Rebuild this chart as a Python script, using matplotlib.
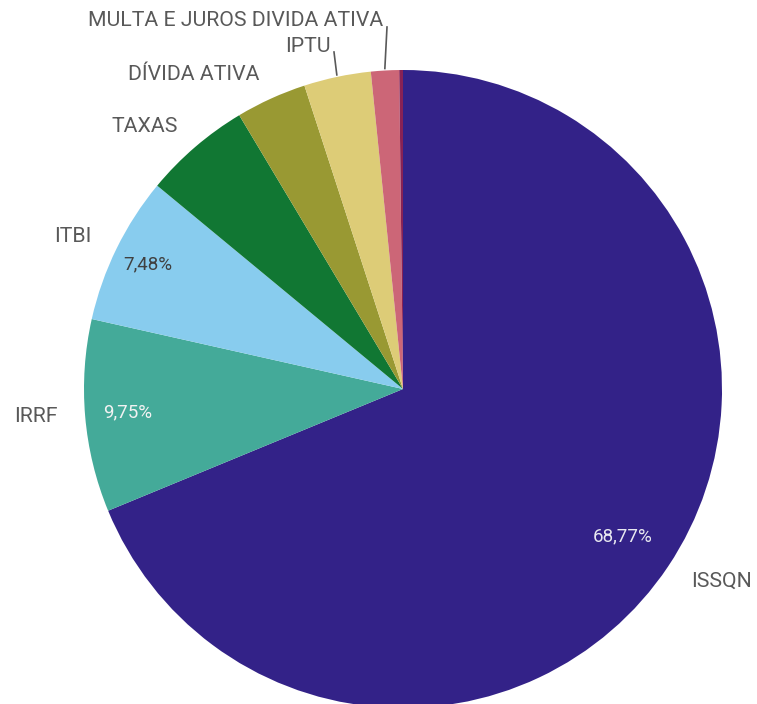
import numpy as np
import matplotlib.pyplot as plt
from matplotlib import font_manager

# receitas por origem (%)
names = ["ISSQN", "IRRF", "ITBI", "TAXAS", "DÍVIDA ATIVA", "IPTU",
         "MULTA E JUROS DIVIDA ATIVA", ""]
shares = [68.77, 9.75, 7.48, 5.42, 3.58, 3.39, 1.42, 0.19]
colors = ["#332288", "#44AA99", "#88CCEE", "#117733", "#999933",
          "#DDCC77", "#CC6677", "#882255"]
show_pct = [True, True, True, False, False, False, False, False]
pct_colors = ["#e8e8f0", "#f2f2f2", "#404040"]
pct_dist = [0.83, 0.865, 0.89]

W, H = 757, 704
fams = [f for f in ["Roboto", "DejaVu Sans"]
        if any(f == x.name for x in font_manager.fontManager.ttflist)]
plt.rcParams["font.family"] = fams

fig = plt.figure(figsize=(W / 100, H / 100), dpi=100)
ax = fig.add_axes([0, 0, 1, 1])

cx, cy, R = 403, H - 389, 319
wedges, _ = ax.pie(shares, colors=colors, startangle=90, counterclock=False,
                   radius=R, center=(cx, cy),
                   wedgeprops=dict(linewidth=0))
ax.set_xlim(0, W)
ax.set_ylim(0, H)
ax.set_aspect("equal")
ax.axis("off")


def mid_angle(w):
    return np.deg2rad((w.theta1 + w.theta2) / 2)


# percentages inside the big slices
k = 0
for w, v, s in zip(wedges, shares, show_pct):
    if not s:
        continue
    a = mid_angle(w)
    r = R * pct_dist[k]
    ax.text(cx + r * np.cos(a), cy + r * np.sin(a),
            f"{v:.2f}%".replace(".", ","), ha="center", va="center",
            fontsize=13.5, color=pct_colors[k])
    k += 1

# category labels (x, y from top, alignment)
label_pos = [(691, 581, "left"), (58, 417, "right"), (92, 237, "right"),
             (178, 127, "right"), (260, 74, "right"), (331, 46, "right"),
             (383, 20, "right"), None]
for w, n, p in zip(wedges, names, label_pos):
    if p is None:
        continue
    ax.text(p[0], H - p[1], n, ha=p[2], va="center", fontsize=15.3,
            color="#595959")

# leader lines for the thin slices at the top
leader_end = {5: (334, 52), 6: (387, 27)}
for i, (ex, ey) in leader_end.items():
    a = mid_angle(wedges[i])
    x0, y0 = cx + (R + 2) * np.cos(a), cy + (R + 2) * np.sin(a)
    ax.plot([x0, ex], [y0, H - ey], color="#595959", lw=1.2)

fig.savefig("out.png", dpi=100)
